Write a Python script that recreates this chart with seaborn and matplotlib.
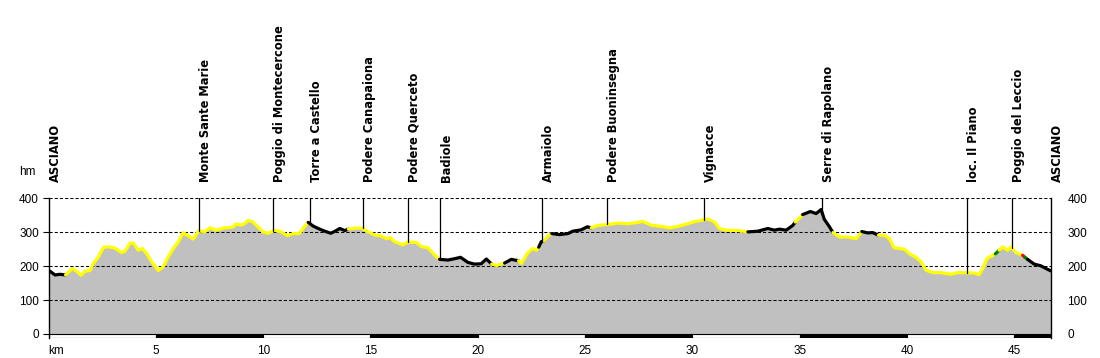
import numpy as np
import pandas as pd
import matplotlib
matplotlib.use("Agg")
import matplotlib.pyplot as plt
import seaborn as sns

# ---------------- data ----------------
km = [0.00, 0.30, 0.53, 0.79, 1.10, 1.31, 1.51, 1.69, 1.93, 2.08, 2.32, 2.55, 2.78, 3.01, 3.17,
      3.40, 3.56, 3.79, 3.95, 4.18, 4.37, 4.57, 4.80, 5.11, 5.34, 5.57, 5.81, 6.04, 6.27, 6.51,
      6.74, 7.00, 7.28, 7.51, 7.80, 8.21, 8.60, 8.72, 8.99, 9.14, 9.30, 9.50, 9.72, 10.02, 10.25,
      10.50, 10.80, 11.14, 11.40, 11.68, 11.90, 12.10, 12.33, 12.64, 12.87, 13.15, 13.35, 13.57, 13.80, 13.97,
      14.27, 14.62, 14.89, 15.20, 15.50, 15.75, 15.92, 16.13, 16.50, 16.75, 17.14, 17.37, 17.68, 17.99, 18.22,
      18.61, 18.92, 19.20, 19.54, 19.85, 20.16, 20.40, 20.65, 20.87, 21.25, 21.56, 21.90, 22.03, 22.34, 22.57,
      22.73, 22.84, 22.96, 23.08, 23.27, 23.45, 23.81, 24.20, 24.43, 24.82, 25.10, 25.29, 25.60, 26.07, 26.53,
      27.00, 27.46, 27.69, 28.08, 28.55, 28.93, 29.32, 29.71, 30.10, 30.49, 30.72, 31.03, 31.26, 31.57, 32.12,
      32.59, 33.05, 33.52, 33.82, 34.06, 34.37, 34.68, 34.80, 35.14, 35.50, 35.77, 36.00, 36.15, 36.39, 36.55,
      36.86, 37.24, 37.63, 37.90, 38.17, 38.41, 38.67, 38.95, 39.18, 39.41, 39.88, 40.11, 40.42, 40.66, 40.89,
      41.20, 41.59, 42.05, 42.36, 43.11, 43.37, 43.53, 43.73, 44.00, 44.12, 44.30, 44.46, 44.69, 44.85, 45.08,
      45.39, 45.50, 45.62, 45.93, 46.24, 46.70]
elev = [188, 174, 176, 174, 193, 185, 173, 185, 187, 208, 227, 255, 257, 255, 250,
        240, 244, 268, 268, 247, 252, 237, 213, 187, 198, 227, 252, 271, 299, 289,
        280, 305, 301, 313, 306, 313, 315, 324, 321, 326, 335, 331, 318, 300, 297,
        306, 302, 290, 296, 296, 315, 329, 318, 309, 303, 297, 303, 311, 305, 309,
        312, 312, 301, 292, 289, 281, 284, 272, 263, 271, 270, 258, 254, 233, 220,
        218, 222, 226, 211, 206, 207, 221, 206, 202, 209, 220, 216, 208, 240, 252,
        247, 256, 272, 274, 289, 296, 293, 296, 303, 307, 316, 313, 320, 323, 327,
        325, 329, 332, 321, 317, 313, 317, 324, 331, 336, 339, 330, 311, 306, 305,
        301, 303, 311, 306, 309, 306, 320, 330, 352, 361, 355, 367, 338, 316, 299,
        286, 286, 281, 302, 298, 299, 291, 291, 281, 254, 250, 237, 226, 213, 188,
        181, 181, 176, 181, 180, 175, 193, 223, 232, 236, 247, 257, 247, 257, 240,
        232, 226, 220, 206, 201, 186]
# surface of the stretch starting at each point (B=black, Y=yellow, G=green, R=red)
surface = (["B"] * 3 + ["Y"] * 48 + ["B"] * 8 + ["Y"] * 15 + ["B"] * 8 + ["Y"] * 2 + ["B"] * 2
           + ["Y"] * 5 + ["B"] * 2 + ["Y"] * 2 + ["B"] * 6 + ["Y"] * 19 + ["B"] * 7 + ["Y"] * 1
           + ["B"] * 6 + ["Y"] * 4 + ["B"] * 3 + ["Y"] * 18 + ["G"] * 1 + ["Y"] * 5 + ["R"] * 1
           + ["G"] * 1 + ["B"] * 4)

places = ["ASCIANO", "Monte Sante Marie", "Poggio di Montecercone", "Torre a Castello",
          "Podere Canapaiona", "Podere Querceto", "Badiole", "Armaiolo", "Podere Buoninsegna",
          "Vignacce", "Serre di Rapolano", "loc. Il Piano", "Poggio del Leccio", "ASCIANO"]
place_km = [0.0, 7.0, 10.44, 12.19, 14.64, 16.73, 18.26, 23.0, 26.04, 30.52, 36.06, 42.78, 44.89, 46.7]

x_ticks = [0, 5, 10, 15, 20, 25, 30, 35, 40, 45]
x_labels = ["km", "5", "10", "15", "20", "25", "30", "35", "40", "45"]
y_ticks = [0, 100, 200, 300, 400]
bar_starts = [0, 5, 10, 15, 20, 25, 30, 35, 40, 45]

# ---------------- figure ----------------
sns.set_theme(style="white")
plt.rcParams["font.family"] = ["Liberation Sans", "DejaVu Sans"]

W, H = 1100, 358
fig = plt.figure(figsize=(W / 100, H / 100), dpi=100)
x_left, x_right, y_top, y_bot = 48.6, 1050.7, 198.3, 338.0
ax = fig.add_axes([x_left / W, 1 - y_bot / H, (x_right - x_left) / W, (y_bot - y_top) / H])
xmax = 46.7
ax.set_xlim(0, xmax)
ax.set_ylim(-11.8, 400)

n = len(km)
surface = surface[:n - 1] + ["B"] * max(0, n - 1 - len(surface))
colors = {"B": "#000000", "Y": "#FFFF00", "G": "#008000", "R": "#FF0000"}

# fill
ax.fill_between(km, 0, elev, color="#C0C0C0", linewidth=0, zorder=1)

# grid
for yv in y_ticks[1:]:
    ax.axhline(yv, color="black", lw=0.75, linestyle=(0, (3, 2)), zorder=2)

# profile line coloured by surface runs
rows = []
run = 0
i = 0
while i < n - 1:
    code = surface[i]
    j = i
    while j < n - 1 and surface[j] == code:
        j += 1
    for k in range(i, j + 1):
        rows.append({"km": km[k], "elev": elev[k], "run": run, "code": code})
    run += 1
    i = j
df = pd.DataFrame(rows)
pal = {r: colors[c] for r, c in df.groupby("run")["code"].first().items()}
sns.lineplot(data=df, x="km", y="elev", hue="run", palette=pal, sort=False,
             estimator=None, legend=False, linewidth=2.3, ax=ax, zorder=3)
for ln in ax.get_lines():
    ln.set_solid_capstyle("round")

# place markers
for name, pk in zip(places, place_km):
    if 0 < pk < xmax - 0.1:
        top = np.interp(pk, km, elev)
        ax.plot([pk, pk], [top, 400], color="black", lw=0.9, zorder=4)
    ax.annotate(name, xy=(pk, 1), xycoords=("data", "axes fraction"),
                xytext=(0, 11.5), textcoords="offset points", rotation=90,
                ha="left", va="bottom", fontsize=8.3, fontweight="bold",
                family="DejaVu Sans", color="black", annotation_clip=False)

# km bar
ax.bar(bar_starts, 11.0, width=[min(5, xmax - b) for b in bar_starts], bottom=-11.5,
       align="edge", color=["white" if k % 2 == 0 else "black" for k in range(len(bar_starts))],
       edgecolor="black", linewidth=0.8, zorder=2)

# axes styling
for s in ["top", "bottom"]:
    ax.spines[s].set_visible(False)
for s in ["left", "right"]:
    ax.spines[s].set_color("black")
    ax.spines[s].set_linewidth(1.0)
ax.set_xticks(x_ticks)
ax.set_xticklabels(x_labels)
ax.get_xticklabels()[0].set_ha("left")
ax.tick_params(axis="x", length=0, pad=5, labelsize=8.5, colors="black")
ax.set_yticks(y_ticks)
ax.tick_params(axis="y", left=True, length=4, width=0.8, pad=3, labelsize=8.5, colors="black")
ax.set_xlabel("")
ax.set_ylabel("")
ax.grid(False)

ax2 = ax.twinx()
ax2.set_ylim(ax.get_ylim())
ax2.set_yticks(y_ticks)
ax2.tick_params(axis="y", length=0, pad=12, labelsize=8.5, colors="black")
for s in ax2.spines.values():
    s.set_visible(False)
ax2.grid(False)

fig.text(27 / W, 1 - 172 / H, "hm", ha="center", va="center", fontsize=8.5, color="black")

fig.savefig("out.png", dpi=100, facecolor="white")
